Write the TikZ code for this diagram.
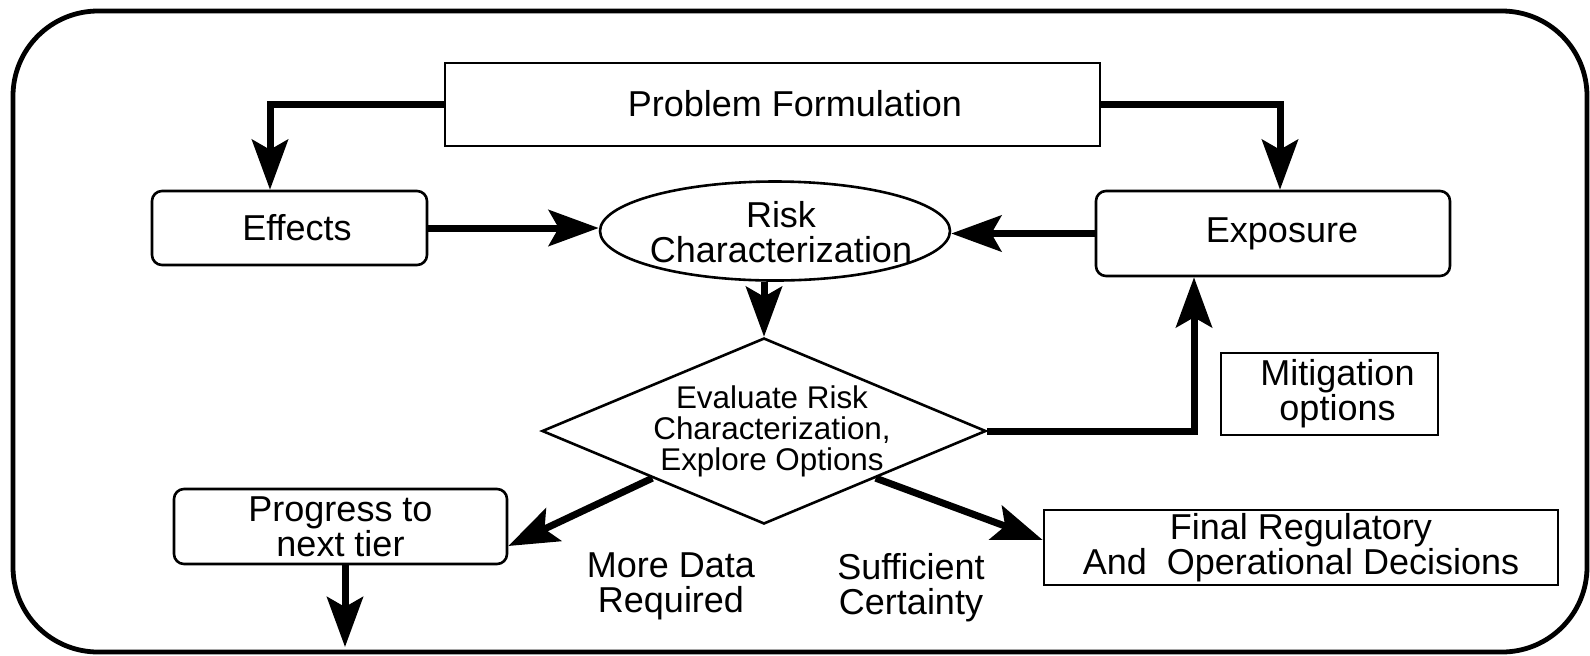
\documentclass[tikz,border=0pt]{standalone}
\usepackage{fontspec}
\setmainfont{Liberation Sans}
\usetikzlibrary{shapes.geometric,arrows.meta}
\begin{document}
\begin{tikzpicture}[x=0.5pt,y=-0.5pt,
  txt/.style={font=\fontsize{18pt}{17.5pt}\selectfont, align=center, inner sep=0pt},
  dtxt/.style={font=\fontsize{15.7pt}{15.5pt}\selectfont, align=center, inner sep=0pt},
  sqbox/.style={draw, line width=1.3pt, fill=white, inner sep=0pt, font=\fontsize{18pt}{17.5pt}\selectfont, align=center},
  rbox/.style={sqbox, rounded corners=5pt},
  arr/.style={line width=3.5pt, line join=miter, -{Stealth[length=25pt,width=18pt,inset=5pt]}},
  frame/.style={line width=2.4pt, rounded corners=42.5pt}]
\useasboundingbox (0,0) rectangle (1590,655);
\draw[frame] (13,11) rectangle (1587,652);

\node[sqbox, minimum width=327.5pt, minimum height=41.5pt] (pf) at (772.5,104.5) {};
\node[txt] (pft) at (795,104) {Problem Formulation};
\node[rbox, minimum width=137.5pt, minimum height=37pt] (eff) at (289.5,228) {\hspace*{7.5pt}Effects};
\node[draw, ellipse, line width=1.3pt, minimum width=175pt, minimum height=49.5pt, inner sep=0pt] (ell) at (775,231) {};
\node[txt] (ellt) at (781,232) {Risk\\Characterization};
\node[rbox, minimum width=177pt, minimum height=42.5pt] (exp) at (1273,233.5) {\hspace*{9pt}Exposure};
\node[draw, diamond, line width=1.3pt, minimum width=222pt, minimum height=93pt, inner sep=0pt] (dia) at (764,431) {};
\node[dtxt] (diat) at (772,431) {Evaluate Risk\\Characterization,\\Explore Options};
\node[sqbox, minimum width=108.5pt, minimum height=41pt] (mit) at (1329.5,394) {\hspace*{8pt}Mitigation\\\hspace*{8pt}options};
\node[rbox, minimum width=166.5pt, minimum height=37.5pt] (prog) at (340.5,526.5) {Progress to\\next tier};
\node[sqbox, minimum width=257pt, minimum height=37.5pt] (fin) at (1301,547.5) {Final Regulatory\\And\ \ Operational Decisions};
\node[txt] (more) at (671,586) {More Data\\Required};
\node[txt] (suff) at (911,588) {Sufficient\\Certainty};
\coordinate (tier) at (345,647);

\draw[arr] (pf.west) -| ([xshift=-9.75pt]eff.north);
\draw[arr] (pf.east) -| ([xshift=3.5pt]exp.north);
\draw[arr] (eff.east) -- (eff.east -| ell.west);
\draw[arr] (exp.west) -- (exp.west -| ell.east);
\draw[arr] (ell.south -| dia.north) -- (dia.north);
\draw[arr] (dia.east) -| ([xshift=-39.5pt]exp.south);
\draw[arr] (dia.south west) -- ([yshift=-9.75pt]prog.east);
\draw[arr] (dia.south east) -- ([yshift=3.75pt]fin.west);
\draw[arr] (prog.south -| tier) -- (tier);
\end{tikzpicture}
\end{document}
